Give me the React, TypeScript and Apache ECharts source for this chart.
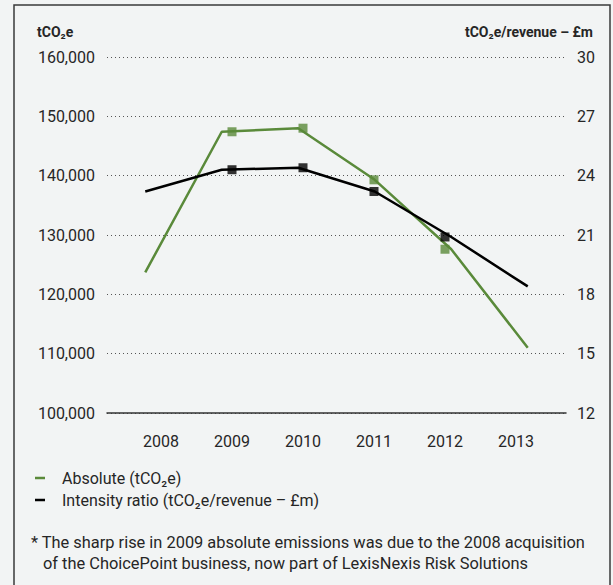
import React, { useEffect, useRef } from "react";
import * as echarts from "echarts";

const years = ["2008", "2009", "2010", "2011", "2012", "2013"];
const absolute = [123700, 147400, 148000, 139300, 127600, 111000];
const intensity = [23.2, 24.3, 24.4, 23.2, 20.9, 18.4];
const leftAxis = { min: 100000, max: 160000, interval: 10000 };
const rightAxis = { min: 12, max: 30, interval: 3 };
const seriesNames = ["Absolute (tCO₂e)", "Intensity ratio (tCO₂e/revenue – £m)"];
const axisTitles = ["tCO₂e", "tCO₂e/revenue – £m"];
const footnote = [
  "* The sharp rise in 2009 absolute emissions was due to the 2008 acquisition",
  "of the ChoicePoint business, now part of LexisNexis Risk Solutions",
];

const GREEN = "#5a8a3a";
const BLACK = "#000000";
const TEXT = "#262626";
const FONT = "Roboto, 'Noto Sans', sans-serif";

export default function App() {
  const ref = useRef<HTMLDivElement>(null);
  useEffect(() => {
    if (!ref.current) return;
    const chart = echarts.init(ref.current, undefined, { renderer: "svg" });
    const markerData = (arr: number[]) =>
      arr.map((v, i) => (i === 0 || i === arr.length - 1 ? "-" : v));
    chart.setOption({
      animation: false,
      backgroundColor: "#f2f4f4",
      textStyle: { fontFamily: FONT },
      grid: [
        { left: 107, right: 47, top: 57, bottom: 172 },
        { left: 125.5, right: 61.5, top: 57, bottom: 172 },
      ],
      xAxis: [
        {
          type: "category",
          gridIndex: 0,
          data: years,
          boundaryGap: true,
          axisLine: { show: true, lineStyle: { color: "#333", width: 1.5 } },
          axisTick: { show: false },
          axisLabel: { show: false },
          splitLine: { show: false },
        },
        {
          type: "category",
          gridIndex: 1,
          data: years,
          boundaryGap: true,
          axisLine: { show: false },
          axisTick: { show: false },
          axisLabel: { fontSize: 16, color: TEXT, margin: 20, fontFamily: FONT },
          splitLine: { show: false },
        },
      ],
      yAxis: [
        {
          type: "value",
          gridIndex: 0,
          position: "left",
          ...leftAxis,
          axisLine: { show: false },
          axisTick: { show: false },
          axisLabel: {
            fontSize: 16,
            color: TEXT,
            margin: 12,
            fontFamily: FONT,
            formatter: (v: number) => v.toLocaleString("en-US"),
          },
          splitLine: { show: true, lineStyle: { color: "#555", type: [1, 3], width: 1 } },
        },
        {
          type: "value",
          gridIndex: 0,
          position: "right",
          ...rightAxis,
          axisLine: { show: false },
          axisTick: { show: false },
          axisLabel: { fontSize: 16, color: TEXT, margin: 11, fontFamily: FONT },
          splitLine: { show: false },
        },
        { type: "value", gridIndex: 1, ...leftAxis, show: false },
        { type: "value", gridIndex: 1, ...rightAxis, show: false },
      ],
      legend: {
        orient: "vertical",
        left: 30,
        top: 465,
        icon: "rect",
        itemWidth: 10,
        itemHeight: 2.5,
        itemGap: 6,
        textStyle: { fontSize: 16, color: TEXT, fontFamily: FONT, padding: [0, 0, 0, 12] },
        data: seriesNames,
      },
      series: [
        {
          type: "line",
          name: seriesNames[0],
          xAxisIndex: 0,
          yAxisIndex: 0,
          data: absolute,
          color: GREEN,
          symbol: "none",
          lineStyle: { color: GREEN, width: 2.5 },
          z: 2,
        },
        {
          type: "line",
          name: seriesNames[1],
          xAxisIndex: 0,
          yAxisIndex: 1,
          data: intensity,
          color: BLACK,
          symbol: "none",
          lineStyle: { color: BLACK, width: 2.5 },
          z: 3,
        },
        {
          type: "scatter",
          name: seriesNames[0],
          xAxisIndex: 1,
          yAxisIndex: 2,
          data: markerData(absolute),
          symbol: "rect",
          symbolSize: 9,
          itemStyle: { color: GREEN },
          z: 4,
        },
        {
          type: "scatter",
          name: seriesNames[1],
          xAxisIndex: 1,
          yAxisIndex: 3,
          data: markerData(intensity),
          symbol: "rect",
          symbolSize: 9,
          itemStyle: { color: BLACK },
          z: 5,
        },
      ],
      graphic: [
        {
          type: "rect",
          shape: { x: 14, y: 5, width: 596, height: 600 },
          style: { fill: "none", stroke: "#3a3a3a", lineWidth: 1.5 },
          silent: true,
        },
        {
          type: "text",
          left: 37,
          top: 25,
          style: { text: axisTitles[0], font: `bold 14px ${FONT}`, fill: TEXT },
        },
        {
          type: "text",
          right: 20,
          top: 25,
          style: { text: axisTitles[1], font: `bold 14px ${FONT}`, fill: TEXT, textAlign: "right" },
        },
        {
          type: "text",
          left: 31,
          top: 534,
          style: { text: footnote[0], font: `16.4px ${FONT}`, fill: TEXT },
        },
        {
          type: "text",
          left: 43,
          top: 555,
          style: { text: footnote[1], font: `16.4px ${FONT}`, fill: TEXT },
        },
      ],
    });
    return () => chart.dispose();
  }, []);
  return (
    <div
      ref={ref}
      style={{ position: "fixed", left: 0, top: 0, width: 613, height: 585, background: "#f2f4f4" }}
    />
  );
}
